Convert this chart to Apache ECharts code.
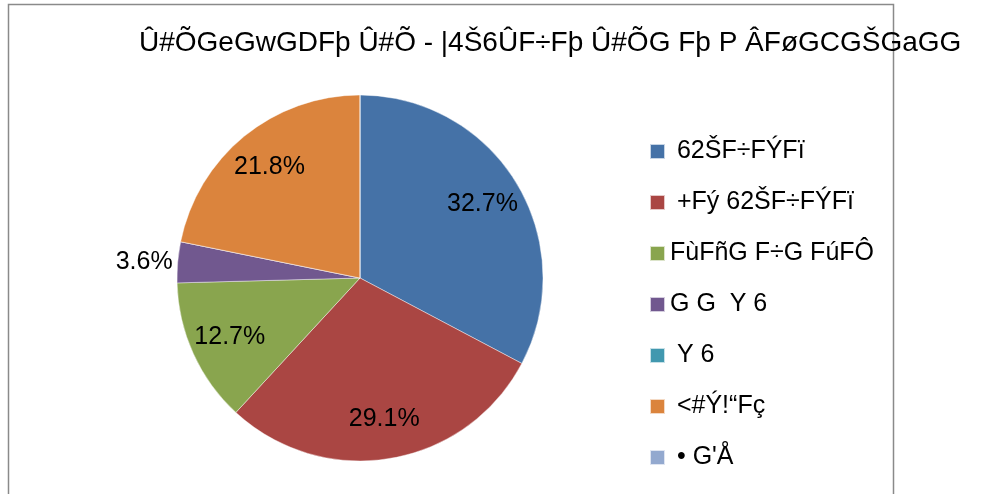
<!DOCTYPE html>
<html>
<head>
<meta charset="utf-8">
<script src="https://cdn.jsdelivr.net/npm/echarts@6/dist/echarts.min.js"></script>
<style>
html,body{margin:0;padding:0;background:#fff;}
#chart{width:985px;height:494px;}
</style>
</head>
<body>
<div id="chart"></div>
<script>
const titleText = "Û#ÕGeGwGDFþ Û#Õ - |4Š6ÛF÷Fþ Û#ÕG Fþ P ÂFøGCGŠGaGG";
const categories = [" 62ŠF÷FÝFï", " +Fý 62ŠF÷FÝFï", "FùFñG F÷G FúFÔ", "G G  Y 6", " Y 6", " <#Ý!“Fç", " • G'Å"];
const values = [32.7, 29.1, 12.7, 3.6, 0, 21.8, 0];
const colors = ["#4572A7", "#AA4643", "#89A54E", "#71588F", "#4198AF", "#DB843D", "#93A9CF"];

const data = categories.map((c, i) => ({ name: c, value: values[i] }));
const fmt = v => v.toFixed(1) + "%";
const FONT = "Liberation Sans, Arial, sans-serif";

const chart = echarts.init(document.getElementById('chart'));
chart.setOption({
  animation: false,
  color: colors,
  textStyle: { fontFamily: FONT },
  title: {
    text: titleText,
    left: 139,
    top: 29,
    padding: 0,
    textStyle: { fontSize: 28, fontWeight: 'normal', color: '#000', fontFamily: FONT }
  },
  graphic: [{
    type: 'rect',
    shape: { x: 8.5, y: 4.5, width: 885, height: 520 },
    style: { fill: 'none', stroke: '#8a8a8a', lineWidth: 1.5 },
    silent: true,
    z: -1
  }],
  legend: {
    orient: 'vertical',
    left: 649,
    top: 139,
    padding: 0,
    itemWidth: 15,
    itemHeight: 15,
    itemGap: 26,
    icon: 'rect',
    data: categories,
    textStyle: { fontSize: 25, lineHeight: 24, color: '#000', fontFamily: FONT }
  },
  series: [
    {
      type: 'pie',
      center: [360, 278],
      radius: [0, 183],
      startAngle: 90,
      clockwise: true,
      avoidLabelOverlap: false,
      silent: true,
      data: data,
      itemStyle: { borderColor: 'rgba(255,255,255,0.7)', borderWidth: 0.6 },
      label: {
        show: true,
        position: 'outside',
        fontSize: 25,
        color: '#000',
        fontFamily: FONT,
        formatter: p => (p.value > 0 && p.value < 5) ? fmt(p.value) : ''
      },
      labelLine: { show: false, length: 0, length2: 0 },
      emphasis: { disabled: true }
    },
    {
      type: 'pie',
      center: [360, 278],
      radius: [0, 280],
      startAngle: 90,
      clockwise: true,
      silent: true,
      legendHoverLink: false,
      data: data,
      itemStyle: { color: 'rgba(0,0,0,0)', borderWidth: 0 },
      label: {
        show: true,
        position: 'inside',
        fontSize: 25,
        color: '#000',
        fontFamily: FONT,
        textBorderWidth: 0,
        formatter: p => (p.value >= 5) ? fmt(p.value) : ''
      },
      labelLine: { show: false },
      emphasis: { disabled: true }
    }
  ]
});
</script>
</body>
</html>
